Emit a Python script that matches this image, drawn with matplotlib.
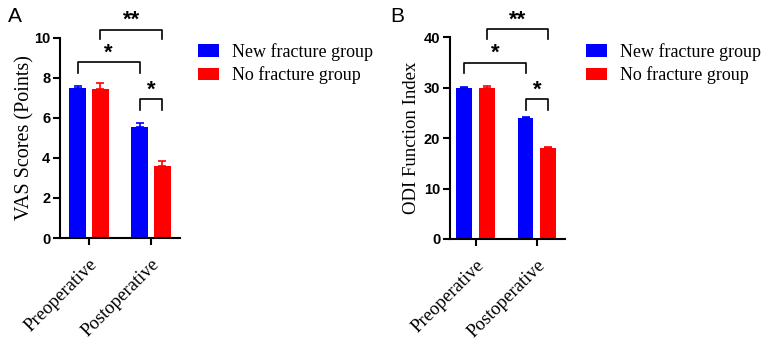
import matplotlib
matplotlib.use("Agg")
import matplotlib.pyplot as plt
from matplotlib.patches import Patch

categories = ["Preoperative", "Postoperative"]
groups = ["New fracture group", "No fracture group"]
colors = ["#0000FF", "#FF0000"]

vas_new = [7.48, 5.53]
vas_new_err = [0.13, 0.23]
vas_no = [7.43, 3.57]
vas_no_err = [0.33, 0.25]

odi_new = [30.0, 24.0]
odi_new_err = [0.2, 0.25]
odi_no = [30.0, 18.0]
odi_no_err = [0.4, 0.3]

fig = plt.figure(figsize=(7.66, 3.46), dpi=100)
W, H = 766, 346

def px_axes(l, t, r, b):
    return fig.add_axes([l / W, 1 - b / H, (r - l) / W, (b - t) / H])

serif = "Liberation Serif"
sans = "Liberation Sans"

def panel(ax, new, new_err, no, no_err, ymax, ystep, ylabel, ylabel_size, ylabel_pad, xlim,
          brackets, star_off, letter, letter_xy, legend_x):
    off = 0.185
    width = 0.26
    xs = [0, 1]
    for vals, errs, sign, c in [(new, new_err, -1, colors[0]), (no, no_err, 1, colors[1])]:
        pos = [x + sign * off for x in xs]
        ax.bar(pos, vals, width=width, color=c, zorder=2)
        ax.errorbar(pos, vals, yerr=[[0] * len(errs), errs], fmt="none", ecolor=c,
                    elinewidth=1.2, capsize=3, capthick=1.2, zorder=3)
    ax.set_xlim(*xlim)
    ax.set_ylim(0, ymax)
    ax.set_yticks(range(0, ymax + 1, ystep))
    ax.set_xticks(xs)
    ax.set_xticklabels(categories, rotation=45, ha="right", rotation_mode="anchor",
                       fontfamily=serif, fontsize=13.5)
    for lab in ax.get_yticklabels():
        lab.set_fontfamily(sans)
        lab.set_fontweight("bold")
        lab.set_fontsize(10.5)
    ax.set_ylabel(ylabel, fontfamily=serif, fontsize=ylabel_size, labelpad=ylabel_pad)
    for s in ["top", "right"]:
        ax.spines[s].set_visible(False)
    for s in ["left", "bottom"]:
        ax.spines[s].set_linewidth(1.5)
    ax.tick_params(axis="both", width=1.5, length=5, direction="out")
    ax.tick_params(axis="x", pad=8)
    ax.tick_params(axis="y", pad=2)
    for (x1, x2, y, drop, label) in brackets:
        ax.plot([x1, x1, x2, x2], [y - drop, y, y, y - drop], color="black", lw=1.2,
                clip_on=False, zorder=4)
        ax.text((x1 + x2) / 2, y + star_off, label, ha="center", va="bottom",
                fontsize=16, fontweight="bold", fontfamily=sans, clip_on=False)
    fig.text(letter_xy[0] / W, 1 - letter_xy[1] / H, letter, fontfamily=sans,
             fontsize=15, ha="left", va="center")
    handles = [Patch(facecolor=colors[0], label=groups[0]), Patch(facecolor=colors[1], label=groups[1])]
    fig.legend(handles=handles, loc="upper left", bbox_to_anchor=(legend_x / W, 1 - 43 / H),
               frameon=False, prop={"family": serif, "size": 13}, handlelength=1.17,
               handleheight=0.67, handletextpad=0.7, labelspacing=0.3, borderaxespad=0,
               borderpad=0)

axA = px_axes(60, 37.7, 180, 238)
panel(axA, vas_new, vas_new_err, vas_no, vas_no_err, 10, 2, "VAS Scores (Points)", 14.5, 0,
      (-0.468, 1.468),
      [(-0.185, 0.815, 8.77, 0.53, "*"), (0.185, 1.185, 10.4, 0.47, "**"),
       (0.83, 1.185, 6.93, 0.53, "*")], -0.07,
      "A", (8, 16), 198)

axB = px_axes(450, 37.3, 565, 239)
panel(axB, odi_new, odi_new_err, odi_no, odi_no_err, 40, 10, "ODI Function Index", 13.5, 3,
      (-0.42, 1.46),
      [(-0.185, 0.815, 35.0, 2.1, "*"), (0.185, 1.185, 41.6, 1.9, "**"),
       (0.83, 1.185, 27.7, 2.1, "*")], -0.3,
      "B", (390, 16), 586)

fig.savefig("out.png", dpi=100)
